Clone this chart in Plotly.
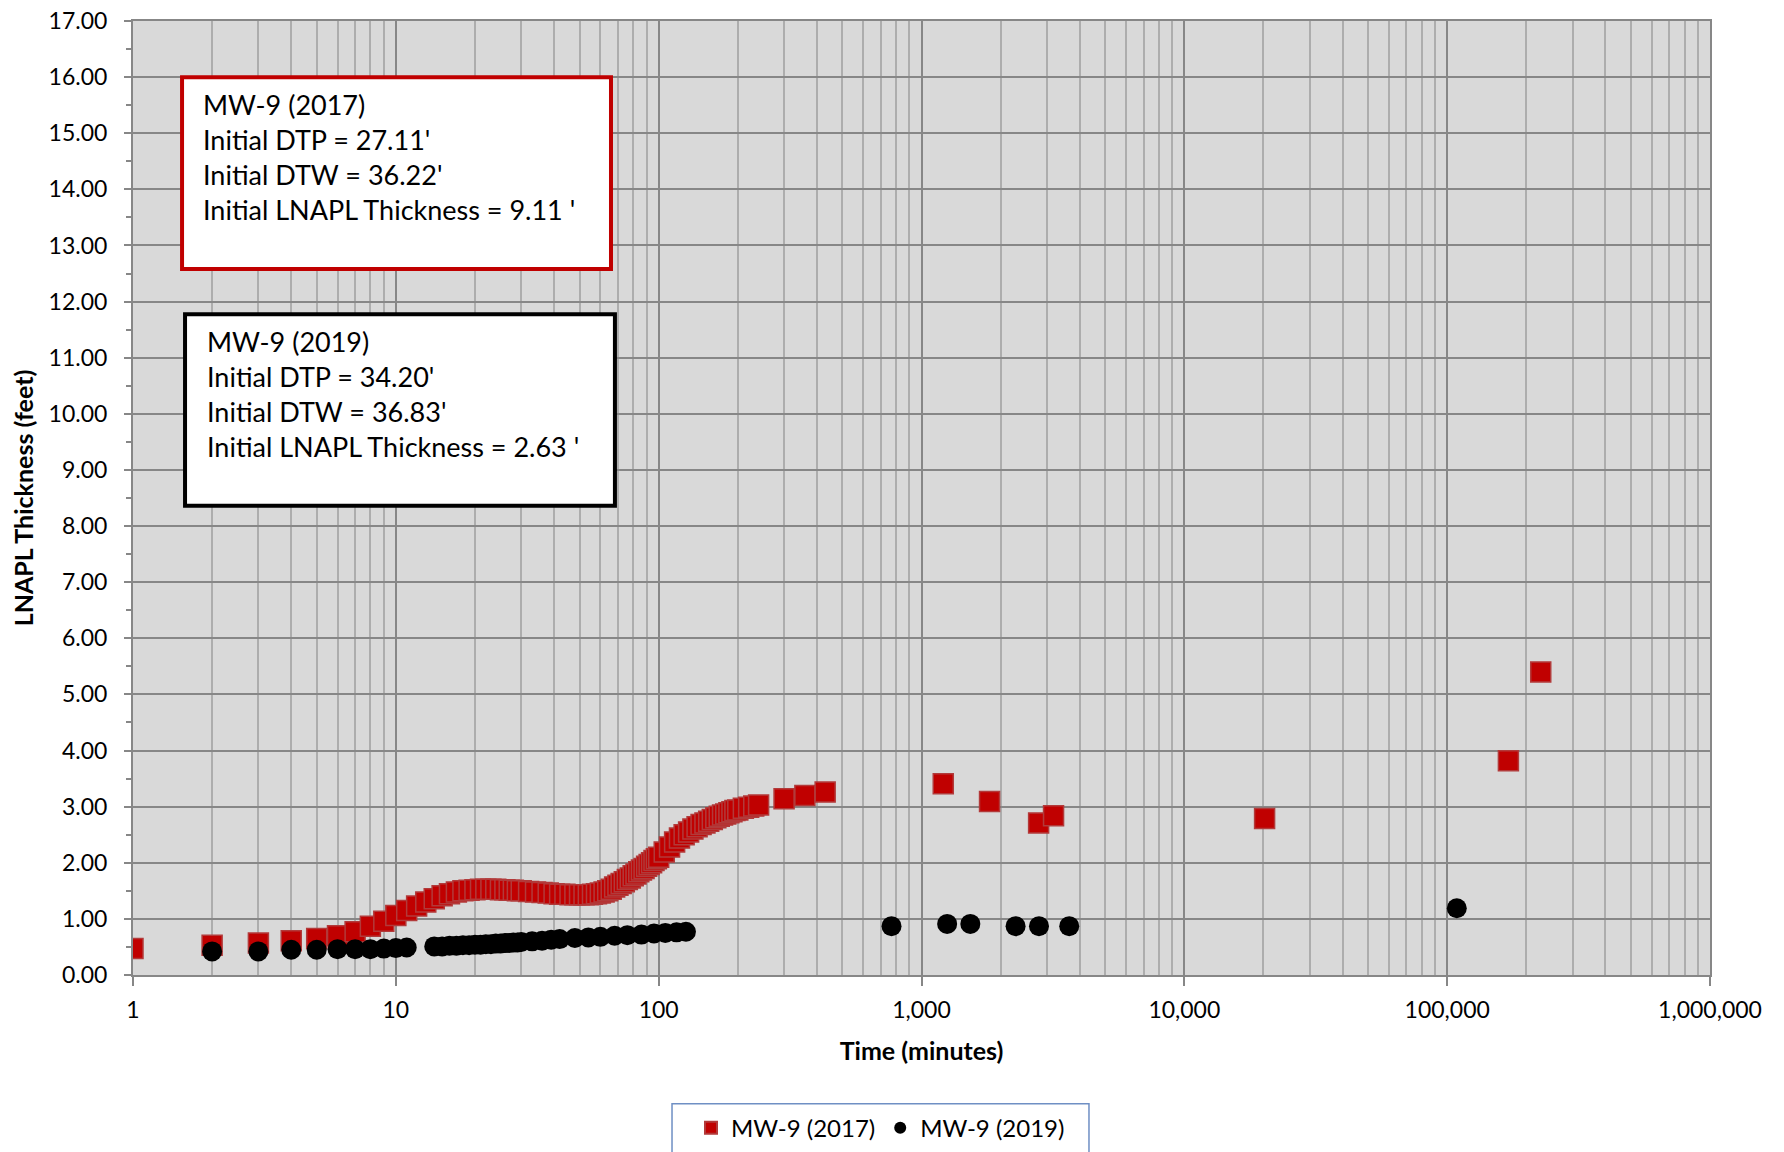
import plotly.graph_objects as go

# MW-9 baildown recovery, 2017 event (time in minutes, LNAPL thickness in feet)
t_2017 = [1, 2, 3, 4, 5, 6, 7, 8, 9, 10, 11, 12, 13, 14, 15, 16, 17, 18, 19, 20,
          21, 22, 23, 24, 25, 26, 27, 28, 29, 30, 32, 34, 36, 38, 40, 42, 44, 46, 48, 50,
          52, 54, 56, 58, 60, 62, 64, 66, 68, 70, 72, 74, 76, 78, 80, 82, 84, 86, 88, 90,
          92, 94, 96, 98, 100, 105, 110, 115, 120, 125, 130, 135, 140, 145, 150, 155, 160,
          165, 170, 175, 180, 185, 190, 195, 200, 210, 220, 230, 240, 300, 360, 430,
          1210, 1815, 2790, 3180, 20200, 171000, 227000]
v_2017 = [0.47, 0.53, 0.57, 0.61, 0.65, 0.70, 0.77, 0.87, 0.96, 1.06, 1.15, 1.23, 1.30, 1.36, 1.41, 1.45, 1.48, 1.50, 1.51, 1.52,
          1.53, 1.53, 1.53, 1.53, 1.52, 1.52, 1.51, 1.51, 1.50, 1.50, 1.49, 1.48, 1.47, 1.46, 1.45, 1.44, 1.44, 1.43, 1.43, 1.43,
          1.43, 1.43, 1.44, 1.45, 1.46, 1.48, 1.50, 1.53, 1.57, 1.60, 1.63, 1.66, 1.70, 1.73, 1.77, 1.80, 1.84, 1.87, 1.90, 1.94,
          1.97, 2.00, 2.04, 2.07, 2.10, 2.19, 2.28, 2.37, 2.44, 2.50, 2.55, 2.60, 2.64, 2.68, 2.71, 2.74, 2.77,
          2.80, 2.83, 2.85, 2.87, 2.89, 2.91, 2.93, 2.94, 2.97, 2.99, 3.01, 3.03, 3.14, 3.20, 3.26,
          3.41, 3.09, 2.71, 2.84, 2.79, 3.82, 5.40]

# MW-9 baildown recovery, 2019 event
t_2019 = [2, 3, 4, 5, 6, 7, 8, 9, 10, 11,
          14, 15, 16, 17, 18, 19, 20, 21, 22, 23, 24, 25, 26, 27, 28, 29, 30,
          33, 36, 39, 42, 48, 54, 60, 68, 76, 86, 96, 106, 117, 127,
          769, 1252, 1534, 2280, 2799, 3648, 108800]
v_2019 = [0.42, 0.42, 0.45, 0.45, 0.46, 0.46, 0.46, 0.47, 0.48, 0.49,
          0.51, 0.51, 0.52, 0.52, 0.53, 0.53, 0.54, 0.54, 0.55, 0.55, 0.56, 0.56, 0.57, 0.57, 0.58, 0.58, 0.59,
          0.60, 0.61, 0.63, 0.64, 0.66, 0.67, 0.68, 0.70, 0.71, 0.72, 0.74, 0.75, 0.76, 0.77,
          0.87, 0.91, 0.91, 0.87, 0.87, 0.87, 1.19]

x_tickvals = [1, 10, 100, 1000, 10000, 100000, 1000000]
x_ticktext = ["1", "10", "100", "1,000", "10,000", "100,000", "1,000,000"]

note_2017 = ["MW-9 (2017)", "Initial DTP = 27.11'", "Initial DTW = 36.22'",
             "Initial LNAPL Thickness = 9.11 '"]
note_2019 = ["MW-9 (2019)", "Initial DTP = 34.20'", "Initial DTW = 36.83'",
             "Initial LNAPL Thickness = 2.63 '"]

FONT = "Lato, 'Open Sans', sans-serif"
MAJOR = "#878787"
MINOR = "#ADADAD"

fig = go.Figure()
fig.add_trace(go.Scatter(
    x=t_2017, y=v_2017, mode="markers", name="MW-9 (2017)",
    marker=dict(symbol="square", size=20, color="#C00000",
                line=dict(color="#B23A3A", width=1.5)),
))
fig.add_trace(go.Scatter(
    x=t_2019, y=v_2019, mode="markers", name="MW-9 (2019)",
    marker=dict(symbol="circle", size=20, color="#000000", line=dict(width=0)),
))

fig.update_layout(
    width=1784, height=1152,
    margin=dict(l=133, r=74, t=21, b=177, autoexpand=False),
    paper_bgcolor="white", plot_bgcolor="#D9D9D9",
    font=dict(family=FONT, color="#000000", size=23),
    showlegend=True,
    legend=dict(
        orientation="h", x=0.474, xanchor="center", y=-0.137, yanchor="top",
        bgcolor="rgba(0,0,0,0)", borderwidth=0,
        font=dict(family=FONT, size=24, color="#000000"),
        itemsizing="constant",
    ),
)

fig.update_xaxes(
    type="log", range=[0, 6],
    tickvals=x_tickvals, ticktext=x_ticktext,
    showgrid=True, gridcolor=MAJOR, gridwidth=2,
    showline=True, linecolor=MAJOR, linewidth=2, mirror=True,
    ticks="outside", ticklen=9, tickwidth=2, tickcolor=MAJOR,
    ticklabelstandoff=4,
    tickfont=dict(family=FONT, size=23),
    minor=dict(dtick="D1", showgrid=True, gridcolor=MINOR, gridwidth=1.5, ticks=""),
    title=dict(text="<b>Time (minutes)</b>", font=dict(family=FONT, size=25), standoff=21),
    zeroline=False,
)
fig.update_yaxes(
    range=[0, 17], dtick=1, tickformat=".2f",
    showgrid=True, gridcolor=MAJOR, gridwidth=2,
    showline=True, linecolor=MAJOR, linewidth=2, mirror=True,
    ticks="outside", ticklen=7, tickwidth=2, tickcolor=MAJOR,
    ticklabelstandoff=12,
    tickfont=dict(family=FONT, size=23),
    minor=dict(dtick=0.5, ticks="outside", ticklen=5, tickwidth=2, tickcolor=MAJOR, showgrid=False),
    title=dict(text="<b>LNAPL Thickness (feet)</b>", font=dict(family=FONT, size=25), standoff=8),
    zeroline=False,
)

# Legend frame
fig.add_shape(type="rect", xref="paper", yref="paper",
              x0=0.3418, x1=0.6062, y0=-0.1349, y1=-0.19,
              line=dict(color="#6F8FC4", width=1.5), fillcolor="white", layer="below")

# Text boxes describing each event's initial conditions
boxes = [
    dict(x0=0.0311, x1=0.3031, y0=0.740, y1=0.941, color="#C00000",
         tx=0.0437, ty=0.9305, lines=note_2017),
    dict(x0=0.0330, x1=0.3056, y0=0.492, y1=0.6927, color="#000000",
         tx=0.0463, ty=0.6822, lines=note_2019),
]
for b in boxes:
    fig.add_shape(type="rect", xref="paper", yref="paper",
                  x0=b["x0"], x1=b["x1"], y0=b["y0"], y1=b["y1"],
                  line=dict(color=b["color"], width=4), fillcolor="white", layer="above")
    fig.add_annotation(xref="paper", yref="paper", x=b["tx"], y=b["ty"],
                       xanchor="left", yanchor="top", align="left", showarrow=False,
                       borderpad=0,
                       text="<br>".join(b["lines"]),
                       font=dict(family=FONT, size=27, color="#000000"))

fig.write_html("out.html")
